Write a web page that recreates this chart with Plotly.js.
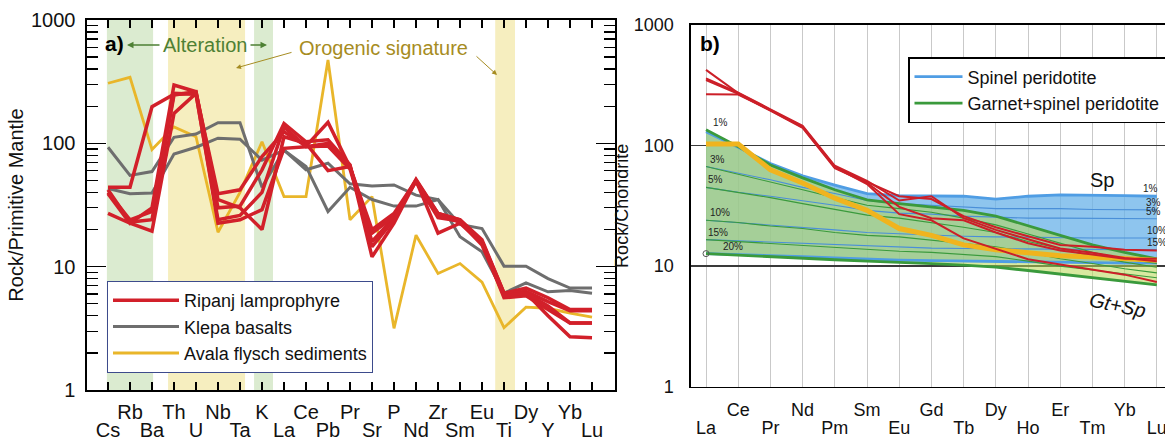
<!DOCTYPE html>
<html><head><meta charset="utf-8">
<script src="https://cdn.plot.ly/plotly-3.0.1.min.js"></script>
<style>html,body{margin:0;padding:0;overflow:hidden;background:#fff;width:1165px;height:440px}#chart{width:1200px;height:440px}</style>
</head><body><div id="chart"></div><script>
// ---------- Panel a data (Rock / Primitive Mantle) ----------
const elemA = ["Cs","Rb","Ba","Th","U","Nb","Ta","K","La","Ce","Pb","Pr","Sr","P","Nd","Zr","Sm","Eu","Ti","Dy","Y","Yb","Lu"];
const ripanj1 = [44,44,198,250,255,39,42,78,124,95,148,64,20,27,50,27,24,16.5,6.1,6.7,5.6,4.5,4.5];
const ripanj2 = [39,22.5,30,297,262,30,31,61,145,103,107,67,12,22.5,50,18.7,22.5,15.5,5.6,5.8,4.5,3.5,3.5];
const ripanj3 = [27,22.5,19.4,175,254,22.5,24,29,91,94,95,62,16,25,51,27,24,16,6.1,6.1,4.0,2.7,2.65];
const ripanj4 = [42,23,24,247,262,35,30,20,113,100,60,65,18.7,25.5,49,25,23.5,16,6.0,6.3,5.2,4.4,4.4];
const ripanj5 = [40,24,28,254,250,24,26,40,136,94,100,66,14.5,24,50,26,23,15,5.8,6.1,4.8,3.5,3.5];
const klepa1 = [93,55,59,112,119,147,147,44,88,61,69,47,45,46,38,35,22,20.4,10.1,10.1,8.0,6.7,6.7];
const klepa2 = [43,39,39.5,82,93,110,108,73,88,65,28,44,35,31,31,35,17.5,13.2,6.1,7.4,6.25,6.4,6.1];
const avala = [307,343,89,136,113,19,40,103,37,37,474,24,37,3.16,18,8.8,10.6,7.5,3.2,4.7,4.6,4.2,3.9];
// shaded element bands (in element index units)
const bandStart = [-0.05, 2.73, 6.64, 17.6];
const bandEnd   = [2.05, 6.23, 7.5, 18.5];
const bandColor = ["#dbebd0","#f6eebf","#dbebd0","#f6eebf"];

// ---------- Panel b data (Rock / Chondrite) ----------
const elemB = ["La","Ce","Pr","Nd","Pm","Sm","Eu","Gd","Tb","Dy","Ho","Er","Tm","Yb","Lu"];
const ripanjB1 = [424,272,198,144,67,50,38,36,26,21,17.7,15,14.5,13.7,13.5];
const ripanjB2 = [361,275,200,146,68,51,35,38,25,20,16.7,14,12.9,11.7,11];
const ripanjB3 = [350,268,195,140,65,49,31,25,24,19,15.5,13.5,12.5,11.5,11.5];
const ripanjB4 = [267,265,196,142,66,48,27,24,17,14,11.4,10.3,9.4,8.5,7.4];
const avalaB = [103,103,63,49,36.6,29,20.5,18,15,13.7,12.9,12.2,11.9,11.5,11.2];
// spinel peridotite melting curves
const sp1  = [130,97,71,56,47,40,38.5,38.5,38,36,38,39,39,38.5,38];
const sp3  = [67,59,52,45,40,35,33,32,31,30,30,30,29.5,29.5,29.3];
const sp5  = [45,41,38,35,32,29,27.5,27,26,25.5,25,25,25,24.7,24.7];
const sp10 = [24,23,22,21,20,19,18.5,18,17.7,17.5,17.3,17.2,17.1,17.1,17.1];
const sp15 = [16.6,16.2,15.8,15.4,15,14.6,14.3,14.1,14,13.9,13.8,13.7,13.7,13.7,13.7];
const sp20 = [12.7,12.5,12.2,12,11.7,11.4,11.2,11.1,11,10.9,10.8,10.7,10.7,10.6,10.6];
// garnet+spinel peridotite melting curves
const gs1  = [135,98,69,54,43,35.5,33,31,29,26,21.5,18,15,13,11.5];
const gs3  = [67,58,50,43,37,32,30,28,25,22,18.5,15.5,13,11.5,10.5];
const gs5  = [45,41,37,33,29.5,26.5,25,23,21,19,16,14,12,10.8,9.8];
const gs10 = [24,23,21.5,20.5,19,18,17.5,16.5,15.5,14.5,13,11.5,10.5,9.5,8.8];
const gs15 = [16.6,16,15.5,15,14.3,13.8,13.3,13,12.5,12,11,10,9.3,8.6,8];
const gs20 = [12.7,12.3,12,11.7,11.3,11,10.8,10.5,10.2,9.8,9.2,8.6,8,7.5,7.0];
const meltLabels = ["1%","3%","5%","10%","15%","20%"];

// ---------- geometry ----------
const W = 1200, H = 440;
const px = v => v / W, py = v => (H - v) / H;
const FONT = "Liberation Sans, Arial, sans-serif";
const xA = elemA.map((_, i) => i);
const xB = elemB.map((_, i) => i);
const RED = "#d2202a", GRAY = "#6e6e6e", GOLD = "#e9b62a";

const traces = [];
// panel a: gold, gray, red (red on top)
traces.push({x: xA, y: avala, xaxis: "x", yaxis: "y", mode: "lines", name: "Avala flysch sediments",
  line: {color: GOLD, width: 2.8}, legendrank: 3, legend: "legend", hoverinfo: "skip"});
[klepa1, klepa2].forEach((s, k) => traces.push({x: xA, y: s, xaxis: "x", yaxis: "y", mode: "lines",
  name: "Klepa basalts", legendgroup: "klepa", showlegend: k === 0, legendrank: 2, legend: "legend",
  line: {color: GRAY, width: 3}, hoverinfo: "skip"}));
[ripanj1, ripanj2, ripanj3, ripanj4, ripanj5].forEach((s, k) => traces.push({x: xA, y: s, xaxis: "x", yaxis: "y",
  mode: "lines", name: "Ripanj lamprophyre", legendgroup: "ripanj", showlegend: k === 0, legendrank: 1,
  legend: "legend", line: {color: RED, width: 3.5}, hoverinfo: "skip"}));
// carrier for the second row of element labels (invisible)
traces.push({x: xA, y: avala, xaxis: "x3", yaxis: "y", mode: "lines", opacity: 0, line: {width: 0},
  showlegend: false, hoverinfo: "skip"});

// panel b: fields
const BLUEFILL = "rgba(104,178,232,0.75)", GREENFILL = "rgba(184,215,82,0.55)";
const BLUE = "#4f9de4", BLUETHIN = "#4a8fd8", GREEN = "#3a9a3c";
const bt = (y, extra) => Object.assign({x: xB, y: y, xaxis: "x2", yaxis: "y2", mode: "lines",
  showlegend: false, hoverinfo: "skip"}, extra);
traces.push(bt(sp20, {line: {width: 0}}));
traces.push(bt(sp1, {line: {width: 0}, fill: "tonexty", fillcolor: BLUEFILL}));
traces.push(bt(gs20, {line: {width: 0}}));
traces.push(bt(gs1, {line: {width: 0}, fill: "tonexty", fillcolor: GREENFILL}));
[sp3, sp5, sp10, sp15].forEach(s => traces.push(bt(s, {line: {color: BLUETHIN, width: 1.1}})));
traces.push(bt(sp1, {line: {color: BLUE, width: 2.8}, showlegend: true, name: "Spinel peridotite", legend: "legend2"}));
traces.push(bt(sp20, {line: {color: BLUE, width: 2.8}}));
[gs3, gs5, gs10, gs15].forEach(s => traces.push(bt(s, {line: {color: GREEN, width: 1.1}})));
traces.push(bt(gs1, {line: {color: GREEN, width: 2.8}, showlegend: true, name: "Garnet+spinel peridotite", legend: "legend2"}));
traces.push(bt(gs20, {line: {color: GREEN, width: 2.8}}));
traces.push({x: [xB[0]], y: [gs20[0]], xaxis: "x2", yaxis: "y2", mode: "markers", showlegend: false, hoverinfo: "skip",
  marker: {symbol: "circle-open", size: 6, color: "#555", line: {width: 1}}});
traces.push(bt(avalaB, {line: {color: "#f0b41e", width: 5}}));
[ripanjB1, ripanjB2, ripanjB3, ripanjB4].forEach(s => traces.push(bt(s, {line: {color: "#cc1f28", width: 2}})));
traces.push({x: xB, y: avalaB, xaxis: "x4", yaxis: "y2", mode: "lines", opacity: 0, line: {width: 0},
  showlegend: false, hoverinfo: "skip"});

// ---------- axes ----------
const oddText = (arr) => arr.map((e, i) => i % 2 === 1 ? e : "");
const evenVals = (arr) => arr.map((_, i) => i).filter(i => i % 2 === 0);
const evenText = (arr) => arr.filter((_, i) => i % 2 === 0);
const minorVals = [2,3,4,5,6,7,8,9,20,30,40,50,60,70,80,90,200,300,400,500,600,700,800,900];

const layout = {
  width: W, height: H, autosize: false, margin: {l: 0, r: 0, t: 0, b: 0},
  paper_bgcolor: "#fff", plot_bgcolor: "rgba(0,0,0,0)",
  font: {family: FONT, color: "#111"}, showlegend: true,
  xaxis: {domain: [px(87), px(615)], range: [-0.9545, 23.045], anchor: "y", tickmode: "array",
    tickvals: xA, ticktext: oddText(elemA), ticks: "inside", ticklen: 8, tickwidth: 1.6, tickcolor: "#000",
    showline: true, linewidth: 1.6, linecolor: "#000", mirror: "ticks", showgrid: false, zeroline: false,
    tickfont: {size: 20}, ticklabelstandoff: 3, fixedrange: true},
  xaxis3: {range: [-0.9545, 23.045], anchor: "y", overlaying: "x", side: "bottom", tickmode: "array",
    tickvals: evenVals(elemA), ticktext: evenText(elemA), ticks: "", showline: false, showgrid: false, zeroline: false,
    tickfont: {size: 20}, ticklabelstandoff: 26, fixedrange: true},
  yaxis: {domain: [py(390), py(20)], type: "log", range: [0, 3], anchor: "x", tickmode: "array",
    tickvals: [1, 10, 100, 1000], ticktext: ["1", "10", "100", "1000"], ticks: "inside", ticklen: 19, tickwidth: 1.6,
    tickcolor: "#000", showline: true, linewidth: 1.6, linecolor: "#000", mirror: "ticks", showgrid: false, zeroline: false,
    minor: {tickvals: minorVals, ticks: "inside", ticklen: 11, tickwidth: 1.3, tickcolor: "#000", showgrid: false},
    tickfont: {size: 20}, ticklabelstandoff: 6,
    title: {text: "Rock/Primitive Mantle", font: {size: 20}, standoff: 2}, fixedrange: true},
  xaxis2: {domain: [px(691), 1], range: [-0.466, 15.34], anchor: "y2", tickmode: "array",
    tickvals: xB, ticktext: oddText(elemB), ticks: "", showgrid: true, gridcolor: "#c9c9c9", gridwidth: 1,
    showline: true, linewidth: 1.6, linecolor: "#000", mirror: true, zeroline: false,
    tickfont: {size: 18}, ticklabelstandoff: 6, fixedrange: true},
  xaxis4: {range: [-0.466, 15.34], anchor: "y2", overlaying: "x2", side: "bottom", tickmode: "array",
    tickvals: evenVals(elemB), ticktext: evenText(elemB), ticks: "", showline: false, showgrid: false, zeroline: false,
    tickfont: {size: 18}, ticklabelstandoff: 28, fixedrange: true},
  yaxis2: {domain: [py(386.7), py(25)], type: "log", range: [0, 3], anchor: "x2", tickmode: "array",
    tickvals: [1, 10, 100, 1000], ticktext: ["1", "10", "100", "1000"], ticks: "",
    showgrid: true, gridcolor: "#3a3a3a", gridwidth: 1.6, showline: true, linewidth: 1.6, linecolor: "#000",
    mirror: true, zeroline: false, tickfont: {size: 18}, ticklabelstandoff: 12,
    title: {text: "Rock/Chondrite", font: {size: 18}, standoff: 0}, fixedrange: true},
  legend: {x: px(107), y: py(281), xanchor: "left", yanchor: "top", bgcolor: "#fff", bordercolor: "#3d4b8c",
    borderwidth: 1, font: {size: 18, family: FONT}, itemwidth: 66, tracegroupgap: 0},
  legend2: {x: px(908), y: py(57), xanchor: "left", yanchor: "top", bgcolor: "#fff", bordercolor: "#000",
    borderwidth: 1.5, font: {size: 18, family: FONT}, itemwidth: 48, tracegroupgap: 0},
  shapes: bandStart.map((b, i) => ({type: "rect", xref: "x", yref: "y domain", x0: b, x1: bandEnd[i], y0: 0, y1: 1,
    fillcolor: bandColor[i], line: {width: 0}, layer: "below"})),
  annotations: []
};

const ann = layout.annotations;
const ALT = "#4e8034", ORO = "#a68c22";
ann.push({xref: "paper", yref: "paper", x: px(103), y: py(44), xanchor: "left", yanchor: "middle", showarrow: false,
  text: "<b>a)</b>", font: {size: 21, color: "#000"}});
ann.push({xref: "paper", yref: "paper", x: px(205), y: py(45), xanchor: "center", yanchor: "middle", showarrow: false,
  text: "Alteration", font: {size: 20, color: ALT}});
ann.push({xref: "paper", yref: "paper", x: px(127), y: py(45), text: "", showarrow: true, ax: 34, ay: 0,
  arrowhead: 2, arrowsize: 1, arrowwidth: 1.3, arrowcolor: ALT});
ann.push({xref: "paper", yref: "paper", x: px(267), y: py(45), text: "", showarrow: true, ax: -18, ay: 0,
  arrowhead: 2, arrowsize: 1, arrowwidth: 1.3, arrowcolor: ALT});
ann.push({xref: "paper", yref: "paper", x: px(383), y: py(48), xanchor: "center", yanchor: "middle", showarrow: false,
  text: "Orogenic signature", font: {size: 20, color: ORO}});
ann.push({xref: "paper", yref: "paper", x: px(236), y: py(68), text: "", showarrow: true, ax: 57, ay: -16,
  arrowhead: 2, arrowsize: 1, arrowwidth: 1, arrowcolor: ORO});
ann.push({xref: "paper", yref: "paper", x: px(497), y: py(75), text: "", showarrow: true, ax: -22, ay: -20,
  arrowhead: 2, arrowsize: 1, arrowwidth: 1, arrowcolor: ORO});
// panel b text
ann.push({xref: "paper", yref: "paper", x: px(698), y: py(44), xanchor: "left", yanchor: "middle", showarrow: false,
  text: "<b>b)</b>", font: {size: 21, color: "#000"}});
ann.push({xref: "paper", yref: "paper", x: px(1102), y: py(180), xanchor: "center", yanchor: "middle", showarrow: false,
  text: "Sp", font: {size: 20, color: "#111"}});
ann.push({xref: "paper", yref: "paper", x: px(1117), y: py(305), xanchor: "center", yanchor: "middle", showarrow: false,
  text: "<i>Gt+Sp</i>", textangle: 12, font: {size: 20, color: "#111"}});
// melt-fraction labels at La (garnet+spinel start) and at Lu (spinel end)
const gsAll = [gs1, gs3, gs5, gs10, gs15, gs20];
const spAll = [sp1, sp3, sp5, sp10, sp15, sp20];
const leftDx = [0.15, 0.05, 0.0, 0.05, 0.0, 0.45];
gsAll.forEach((s, i) => ann.push({xref: "x2", yref: "y2", x: leftDx[i], y: Math.log10(s[0]), xanchor: "left",
  yanchor: "bottom", showarrow: false, text: meltLabels[i], font: {size: 10, color: "#222"}}));
const rightX = [13.8, 13.9, 13.9, 14.0, 14.0];
spAll.slice(0, 5).forEach((s, i) => ann.push({xref: "x2", yref: "y2", x: rightX[i], y: Math.log10(s[14]),
  xanchor: "center", yanchor: "bottom", showarrow: false, text: meltLabels[i], font: {size: 10, color: "#222"}}));

Plotly.newPlot("chart", traces, layout, {staticPlot: true, displayModeBar: false});
</script></body></html>
